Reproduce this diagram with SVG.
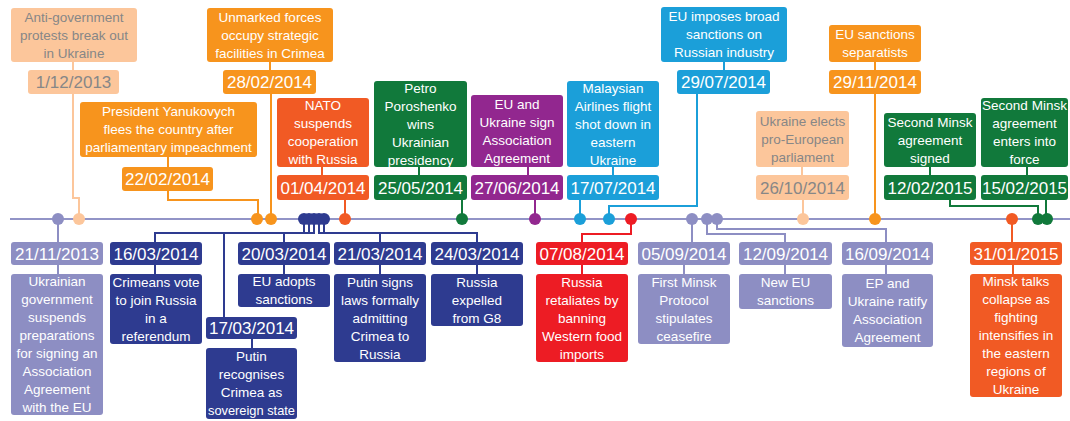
<svg xmlns="http://www.w3.org/2000/svg" width="1070" height="421" viewBox="0 0 1070 421">
<style>
rect{rx:3px;ry:3px}
.lp{fill:#fcc69b}.or{fill:#f7941d}.do{fill:#f15a24}.gr{fill:#11793b}.pu{fill:#92278f}.cy{fill:#1b9fd9}.rd{fill:#ed1c24}.lv{fill:#8d8ec3}.nv{fill:#2e3b90}
text{font-family:"Liberation Sans",Arial,sans-serif;text-anchor:middle;fill:#fff}
.t{font-size:13.5px}
.d{font-size:17px}
.g{fill:#878787}
.c{fill:none;stroke-width:2}
.slp{stroke:#fcc69b}.sor{stroke:#f7941d}.sdo{stroke:#f15a24}.sgr{stroke:#11793b}.spu{stroke:#92278f}.scy{stroke:#1b9fd9}.srd{stroke:#ed1c24}.slv{stroke:#8d8ec3}.snv{stroke:#2e3b90}
</style>
<g id="timeline"><line x1="10" y1="219" x2="1070" y2="219" stroke="#9294c7" stroke-width="2"/></g>
<g id="connectors">
<path class="c slp" d="M73,62V70M73,94V198H79V219"/>
<path class="c sor" d="M168,157V167M168,191V200H258V219"/>
<path class="c sor" d="M270,62V70M271,94V219"/>
<path class="c sdo" d="M322,167V175M345,200V219"/>
<path class="c sgr" d="M419,167V175M462,200V219"/>
<path class="c spu" d="M528,167V175M535,200V219"/>
<path class="c scy" d="M613,167V175M580,200V219"/>
<path class="c scy" d="M724,62V70M697,94V206H609V219"/>
<path class="c slp" d="M802,167V175M803,200V219"/>
<path class="c sor" d="M875,62V70M875,94V219"/>
<path class="c sgr" d="M930,167V175M950,200V206H1038V219"/>
<path class="c sgr" d="M1027,167V175M1046,200V219"/>
<path class="c slv" d="M58,219V242M58,265V274"/>
<path class="c snv" d="M304,219V233H155V242M155,265V274"/>
<path class="c snv" d="M309,219V233H224V317M252,339V348"/>
<path class="c snv" d="M314,219V233H284V242M284,265V274"/>
<path class="c snv" d="M319,219V233H380V242M380,265V274"/>
<path class="c snv" d="M324,219V233H477V242M477,265V274"/>
<path class="c srd" d="M631,219V234H582V242M582,265V274"/>
<path class="c slv" d="M692,219V242M684,265V274"/>
<path class="c slv" d="M707,219V234H785V242M785,265V274"/>
<path class="c slv" d="M717,219V229H886V242M886,265V274"/>
<path class="c sdo" d="M1012,219V242M1013,265V274"/>
</g>
<g id="n-20131201">
<rect class="lp" x="11" y="8" width="126" height="54"/>
<text class="t g"><tspan x="74" y="21.5">Anti-government</tspan><tspan x="74" y="39.5">protests break out</tspan><tspan x="74" y="57.5">in Ukraine</tspan></text>
<rect class="lp" x="28" y="70" width="91" height="24"/>
<text class="d g" x="73.5" y="88">1/12/2013</text>
<circle class="lp" cx="79" cy="219" r="6"/>
</g>
<g id="n-20140222">
<rect class="or" x="80" y="102" width="177" height="55"/>
<text class="t"><tspan x="168.5" y="116">President Yanukovych</tspan><tspan x="168.5" y="134">flees the country after</tspan><tspan x="168.5" y="152">parliamentary impeachment</tspan></text>
<rect class="or" x="122" y="167" width="91" height="24"/>
<text class="d" x="167.5" y="185">22/02/2014</text>
<circle class="or" cx="257" cy="219" r="6"/>
</g>
<g id="n-20140228">
<rect class="or" x="207" y="8" width="126" height="54"/>
<text class="t"><tspan x="270" y="21.5">Unmarked forces</tspan><tspan x="270" y="39.5">occupy strategic</tspan><tspan x="270" y="57.5">facilities in Crimea</tspan></text>
<rect class="or" x="223" y="70" width="93" height="24"/>
<text class="d" x="269.5" y="88">28/02/2014</text>
<circle class="or" cx="271" cy="219" r="6"/>
</g>
<g id="n-20140401">
<rect class="do" x="277" y="98" width="92" height="69"/>
<text class="t"><tspan x="323" y="110">NATO</tspan><tspan x="323" y="128">suspends</tspan><tspan x="323" y="146">cooperation</tspan><tspan x="323" y="164">with Russia</tspan></text>
<rect class="do" x="277" y="175" width="92" height="25"/>
<text class="d" x="323" y="193.5">01/04/2014</text>
<circle class="do" cx="345" cy="219" r="6"/>
</g>
<g id="n-20140525">
<rect class="gr" x="374" y="81" width="93" height="86"/>
<text class="t"><tspan x="420.5" y="92.5">Petro</tspan><tspan x="420.5" y="110.5">Poroshenko</tspan><tspan x="420.5" y="128.5">wins</tspan><tspan x="420.5" y="146.5">Ukrainian</tspan><tspan x="420.5" y="164.5">presidency</tspan></text>
<rect class="gr" x="374" y="175" width="93" height="25"/>
<text class="d" x="420.5" y="193.5">25/05/2014</text>
<circle class="gr" cx="462" cy="219" r="6"/>
</g>
<g id="n-20140627">
<rect class="pu" x="471" y="95" width="92" height="72"/>
<text class="t"><tspan x="517" y="108.5">EU and</tspan><tspan x="517" y="126.5">Ukraine sign</tspan><tspan x="517" y="144.5">Association</tspan><tspan x="517" y="162.5">Agreement</tspan></text>
<rect class="pu" x="471" y="175" width="92" height="25"/>
<text class="d" x="517" y="193.5">27/06/2014</text>
<circle class="pu" cx="535" cy="219" r="6"/>
</g>
<g id="n-20140717">
<rect class="cy" x="567" y="81" width="92" height="86"/>
<text class="t"><tspan x="613" y="92.5">Malaysian</tspan><tspan x="613" y="110.5">Airlines flight</tspan><tspan x="613" y="128.5">shot down in</tspan><tspan x="613" y="146.5">eastern</tspan><tspan x="613" y="164.5">Ukraine</tspan></text>
<rect class="cy" x="567" y="175" width="92" height="25"/>
<text class="d" x="613" y="193.5">17/07/2014</text>
<circle class="cy" cx="580" cy="219" r="6"/>
</g>
<g id="n-20140729">
<rect class="cy" x="661" y="7" width="126" height="55"/>
<text class="t"><tspan x="724" y="21">EU imposes broad</tspan><tspan x="724" y="39">sanctions on</tspan><tspan x="724" y="57">Russian industry</tspan></text>
<rect class="cy" x="677" y="70" width="93" height="24"/>
<text class="d" x="723.5" y="88">29/07/2014</text>
<circle class="cy" cx="609" cy="219" r="6"/>
</g>
<g id="n-20141026">
<rect class="lp" x="756" y="111" width="93" height="56"/>
<text class="t g"><tspan x="802.5" y="125.5">Ukraine elects</tspan><tspan x="802.5" y="143.5">pro-European</tspan><tspan x="802.5" y="161.5">parliament</tspan></text>
<rect class="lp" x="756" y="175" width="93" height="25"/>
<text class="d g" x="802.5" y="193.5">26/10/2014</text>
<circle class="lp" cx="803" cy="219" r="6"/>
</g>
<g id="n-20141129">
<rect class="or" x="829" y="25" width="92" height="37"/>
<text class="t"><tspan x="875" y="39">EU sanctions</tspan><tspan x="875" y="57">separatists</tspan></text>
<rect class="or" x="829" y="70" width="92" height="24"/>
<text class="d" x="875" y="88">29/11/2014</text>
<circle class="or" cx="875" cy="219" r="6"/>
</g>
<g id="n-20150212">
<rect class="gr" x="884" y="113" width="92" height="54"/>
<text class="t"><tspan x="930" y="126.5">Second Minsk</tspan><tspan x="930" y="144.5">agreement</tspan><tspan x="930" y="162.5">signed</tspan></text>
<rect class="gr" x="884" y="175" width="92" height="25"/>
<text class="d" x="930" y="193.5">12/02/2015</text>
<circle class="gr" cx="1038" cy="219" r="6"/>
</g>
<g id="n-20150215">
<rect class="gr" x="981" y="98" width="87" height="69"/>
<text class="t"><tspan x="1024.5" y="110">Second Minsk</tspan><tspan x="1024.5" y="128">agreement</tspan><tspan x="1024.5" y="146">enters into</tspan><tspan x="1024.5" y="164">force</tspan></text>
<rect class="gr" x="981" y="175" width="87" height="25"/>
<text class="d" x="1024.5" y="193.5">15/02/2015</text>
<circle class="gr" cx="1047" cy="219" r="6"/>
</g>
<g id="n-20131121">
<circle class="lv" cx="58" cy="219" r="6"/>
<rect class="lv" x="11" y="242" width="92" height="23"/>
<text class="d" x="57" y="259.5">21/11/2013</text>
<rect class="lv" x="11" y="274" width="92" height="141"/>
<text class="t"><tspan x="57" y="286">Ukrainian</tspan><tspan x="57" y="304">government</tspan><tspan x="57" y="322">suspends</tspan><tspan x="57" y="340">preparations</tspan><tspan x="57" y="358">for signing an</tspan><tspan x="57" y="376">Association</tspan><tspan x="57" y="394">Agreement</tspan><tspan x="57" y="412">with the EU</tspan></text>
</g>
<g id="n-20140316">
<circle class="nv" cx="304" cy="219" r="6"/>
<rect class="nv" x="110" y="242" width="92" height="23"/>
<text class="d" x="156" y="259.5">16/03/2014</text>
<rect class="nv" x="110" y="274" width="92" height="70"/>
<text class="t"><tspan x="156" y="286.5">Crimeans vote</tspan><tspan x="156" y="304.5">to join Russia</tspan><tspan x="156" y="322.5">in a</tspan><tspan x="156" y="340.5">referendum</tspan></text>
</g>
<g id="n-20140317">
<circle class="nv" cx="309" cy="219" r="6"/>
<rect class="nv" x="206" y="317" width="91" height="22"/>
<text class="d" x="251.5" y="334">17/03/2014</text>
<rect class="nv" x="206" y="348" width="91" height="71"/>
<text class="t"><tspan x="251.5" y="361">Putin</tspan><tspan x="251.5" y="379">recognises</tspan><tspan x="251.5" y="397">Crimea as</tspan><tspan x="251.5" y="415" textLength="87" lengthAdjust="spacingAndGlyphs">sovereign state</tspan></text>
</g>
<g id="n-20140320">
<circle class="nv" cx="314" cy="219" r="6"/>
<rect class="nv" x="238" y="242" width="92" height="23"/>
<text class="d" x="284" y="259.5">20/03/2014</text>
<rect class="nv" x="238" y="274" width="92" height="33"/>
<text class="t"><tspan x="284" y="286">EU adopts</tspan><tspan x="284" y="304">sanctions</tspan></text>
</g>
<g id="n-20140321">
<circle class="nv" cx="319" cy="219" r="6"/>
<rect class="nv" x="334" y="242" width="92" height="23"/>
<text class="d" x="380" y="259.5">21/03/2014</text>
<rect class="nv" x="334" y="274" width="92" height="88"/>
<text class="t"><tspan x="380" y="286.5">Putin signs</tspan><tspan x="380" y="304.5">laws formally</tspan><tspan x="380" y="322.5">admitting</tspan><tspan x="380" y="340.5">Crimea to</tspan><tspan x="380" y="358.5">Russia</tspan></text>
</g>
<g id="n-20140324">
<circle class="nv" cx="324" cy="219" r="6"/>
<rect class="nv" x="431" y="242" width="92" height="23"/>
<text class="d" x="477" y="259.5">24/03/2014</text>
<rect class="nv" x="431" y="274" width="92" height="52"/>
<text class="t"><tspan x="477" y="286.5">Russia</tspan><tspan x="477" y="304.5">expelled</tspan><tspan x="477" y="322.5">from G8</tspan></text>
</g>
<g id="n-20140807">
<circle class="rd" cx="631" cy="219" r="6"/>
<rect class="rd" x="536" y="242" width="92" height="23"/>
<text class="d" x="582" y="259.5">07/08/2014</text>
<rect class="rd" x="536" y="274" width="92" height="88"/>
<text class="t"><tspan x="582" y="286.5">Russia</tspan><tspan x="582" y="304.5">retaliates by</tspan><tspan x="582" y="322.5">banning</tspan><tspan x="582" y="340.5">Western food</tspan><tspan x="582" y="358.5">imports</tspan></text>
</g>
<g id="n-20140905">
<circle class="lv" cx="692" cy="219" r="6"/>
<rect class="lv" x="638" y="242" width="92" height="23"/>
<text class="d" x="684" y="259.5">05/09/2014</text>
<rect class="lv" x="638" y="274" width="92" height="70"/>
<text class="t"><tspan x="684" y="286.5">First Minsk</tspan><tspan x="684" y="304.5">Protocol</tspan><tspan x="684" y="322.5">stipulates</tspan><tspan x="684" y="340.5">ceasefire</tspan></text>
</g>
<g id="n-20140912">
<circle class="lv" cx="707" cy="219" r="6"/>
<rect class="lv" x="739" y="242" width="93" height="23"/>
<text class="d" x="785.5" y="259.5">12/09/2014</text>
<rect class="lv" x="739" y="274" width="93" height="35"/>
<text class="t"><tspan x="785.5" y="287">New EU</tspan><tspan x="785.5" y="305">sanctions</tspan></text>
</g>
<g id="n-20140916">
<circle class="lv" cx="717" cy="219" r="6"/>
<rect class="lv" x="842" y="242" width="91" height="23"/>
<text class="d" x="887.5" y="259.5">16/09/2014</text>
<rect class="lv" x="842" y="274" width="91" height="73"/>
<text class="t"><tspan x="887.5" y="288">EP and</tspan><tspan x="887.5" y="306">Ukraine ratify</tspan><tspan x="887.5" y="324">Association</tspan><tspan x="887.5" y="342">Agreement</tspan></text>
</g>
<g id="n-20150131">
<circle class="do" cx="1012" cy="219" r="6"/>
<rect class="do" x="970" y="242" width="92" height="23"/>
<text class="d" x="1016" y="259.5">31/01/2015</text>
<rect class="do" x="970" y="274" width="92" height="123"/>
<text class="t"><tspan x="1016" y="286">Minsk talks</tspan><tspan x="1016" y="304">collapse as</tspan><tspan x="1016" y="322">fighting</tspan><tspan x="1016" y="340">intensifies in</tspan><tspan x="1016" y="358">the eastern</tspan><tspan x="1016" y="376">regions of</tspan><tspan x="1016" y="394">Ukraine</tspan></text>
</g>
</svg>
